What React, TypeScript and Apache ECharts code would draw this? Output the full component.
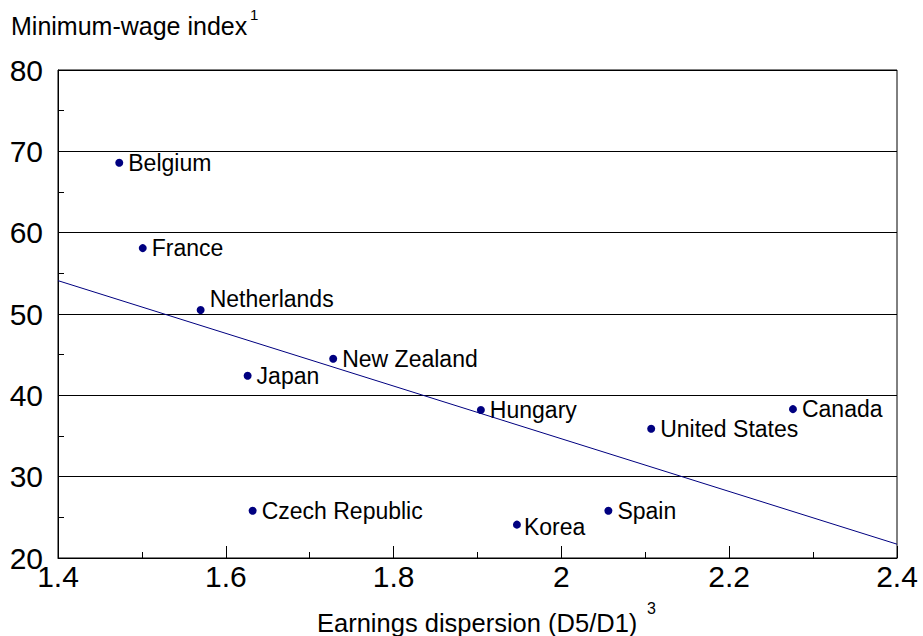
import React, { useEffect, useRef } from "react";
import * as echarts from "echarts";

const countries = ["Belgium", "France", "Netherlands", "Japan", "New Zealand", "Hungary", "United States", "Canada", "Czech Republic", "Korea", "Spain"];
const dispersion = [1.473, 1.501, 1.57, 1.626, 1.728, 1.904, 2.107, 2.276, 1.632, 1.947, 2.056];
const minWage = [68.6, 58.1, 50.5, 42.4, 44.5, 38.2, 35.9, 38.3, 25.8, 24.1, 25.8];
const trendX = [1.4, 2.4];
const trendY = [54.1, 21.7];
const yTitle = "Minimum-wage index";
const xTitle = "Earnings dispersion (D5/D1)";

const FONT = "'Liberation Sans', Arial, sans-serif";
const NAVY = "#000080";

export default function App() {
  const ref = useRef<HTMLDivElement>(null);
  useEffect(() => {
    const chart = echarts.init(ref.current!, null, { renderer: "svg" });
    const labelOffsets: Record<string, number[]> = { Netherlands: [0, -11], Korea: [-2, 2] };
    chart.setOption({
      animation: false,
      textStyle: { fontFamily: FONT },
      grid: { left: 58, top: 70, width: 839, height: 488, show: true, borderColor: "#000", borderWidth: 1 },
      xAxis: {
        type: "value", min: 1.4, max: 2.4, interval: 0.2,
        axisLine: { lineStyle: { color: "#000", width: 1 } },
        axisTick: { inside: true, length: 12, lineStyle: { color: "#000" } },
        minorTick: { show: true, splitNumber: 2, length: 6, lineStyle: { color: "#000" } },
        axisLabel: { color: "#000", fontSize: 30, fontFamily: FONT, margin: 3 },
        splitLine: { show: false },
      },
      yAxis: {
        type: "value", min: 20, max: 80, interval: 10,
        axisLine: { lineStyle: { color: "#000", width: 1 } },
        axisTick: { inside: true, length: 6, lineStyle: { color: "#000" } },
        minorTick: { show: true, splitNumber: 2, length: 6, lineStyle: { color: "#000" } },
        axisLabel: { color: "#000", fontSize: 30, fontFamily: FONT, margin: 15 },
        splitLine: { show: true, lineStyle: { color: "#000", width: 1 } },
      },
      series: [
        {
          type: "line",
          data: trendX.map((x, i) => [x, trendY[i]]),
          symbol: "none",
          lineStyle: { color: NAVY, width: 1 },
          silent: true,
        },
        {
          type: "scatter",
          symbolSize: 8,
          itemStyle: { color: NAVY, opacity: 1 },
          data: countries.map((c, i) => ({
            value: [dispersion[i], minWage[i]],
            name: c,
            label: { offset: labelOffsets[c] || [0, 0] },
          })),
          label: {
            show: true, position: "right", distance: 5,
            formatter: (p: any) => p.name,
            color: "#000", fontSize: 23, fontFamily: FONT,
          },
        },
      ],
      graphic: [
        { type: "text", x: 11, y: 26, style: { text: yTitle, fontSize: 25, fontFamily: FONT, fill: "#000", textVerticalAlign: "middle" } },
        { type: "text", x: 250, y: 14, style: { text: "1", fontSize: 15, fontFamily: FONT, fill: "#000", textVerticalAlign: "middle" } },
        { type: "text", x: 317, y: 623, style: { text: xTitle, fontSize: 25.5, fontFamily: FONT, fill: "#000", textVerticalAlign: "middle" } },
        { type: "text", x: 647, y: 608, style: { text: "3", fontSize: 16, fontFamily: FONT, fill: "#000", textVerticalAlign: "middle" } },
      ],
    });
    return () => chart.dispose();
  }, []);
  return <div ref={ref} style={{ position: "absolute", left: 0, top: 0, width: 923, height: 636, background: "#fff" }} />;
}
